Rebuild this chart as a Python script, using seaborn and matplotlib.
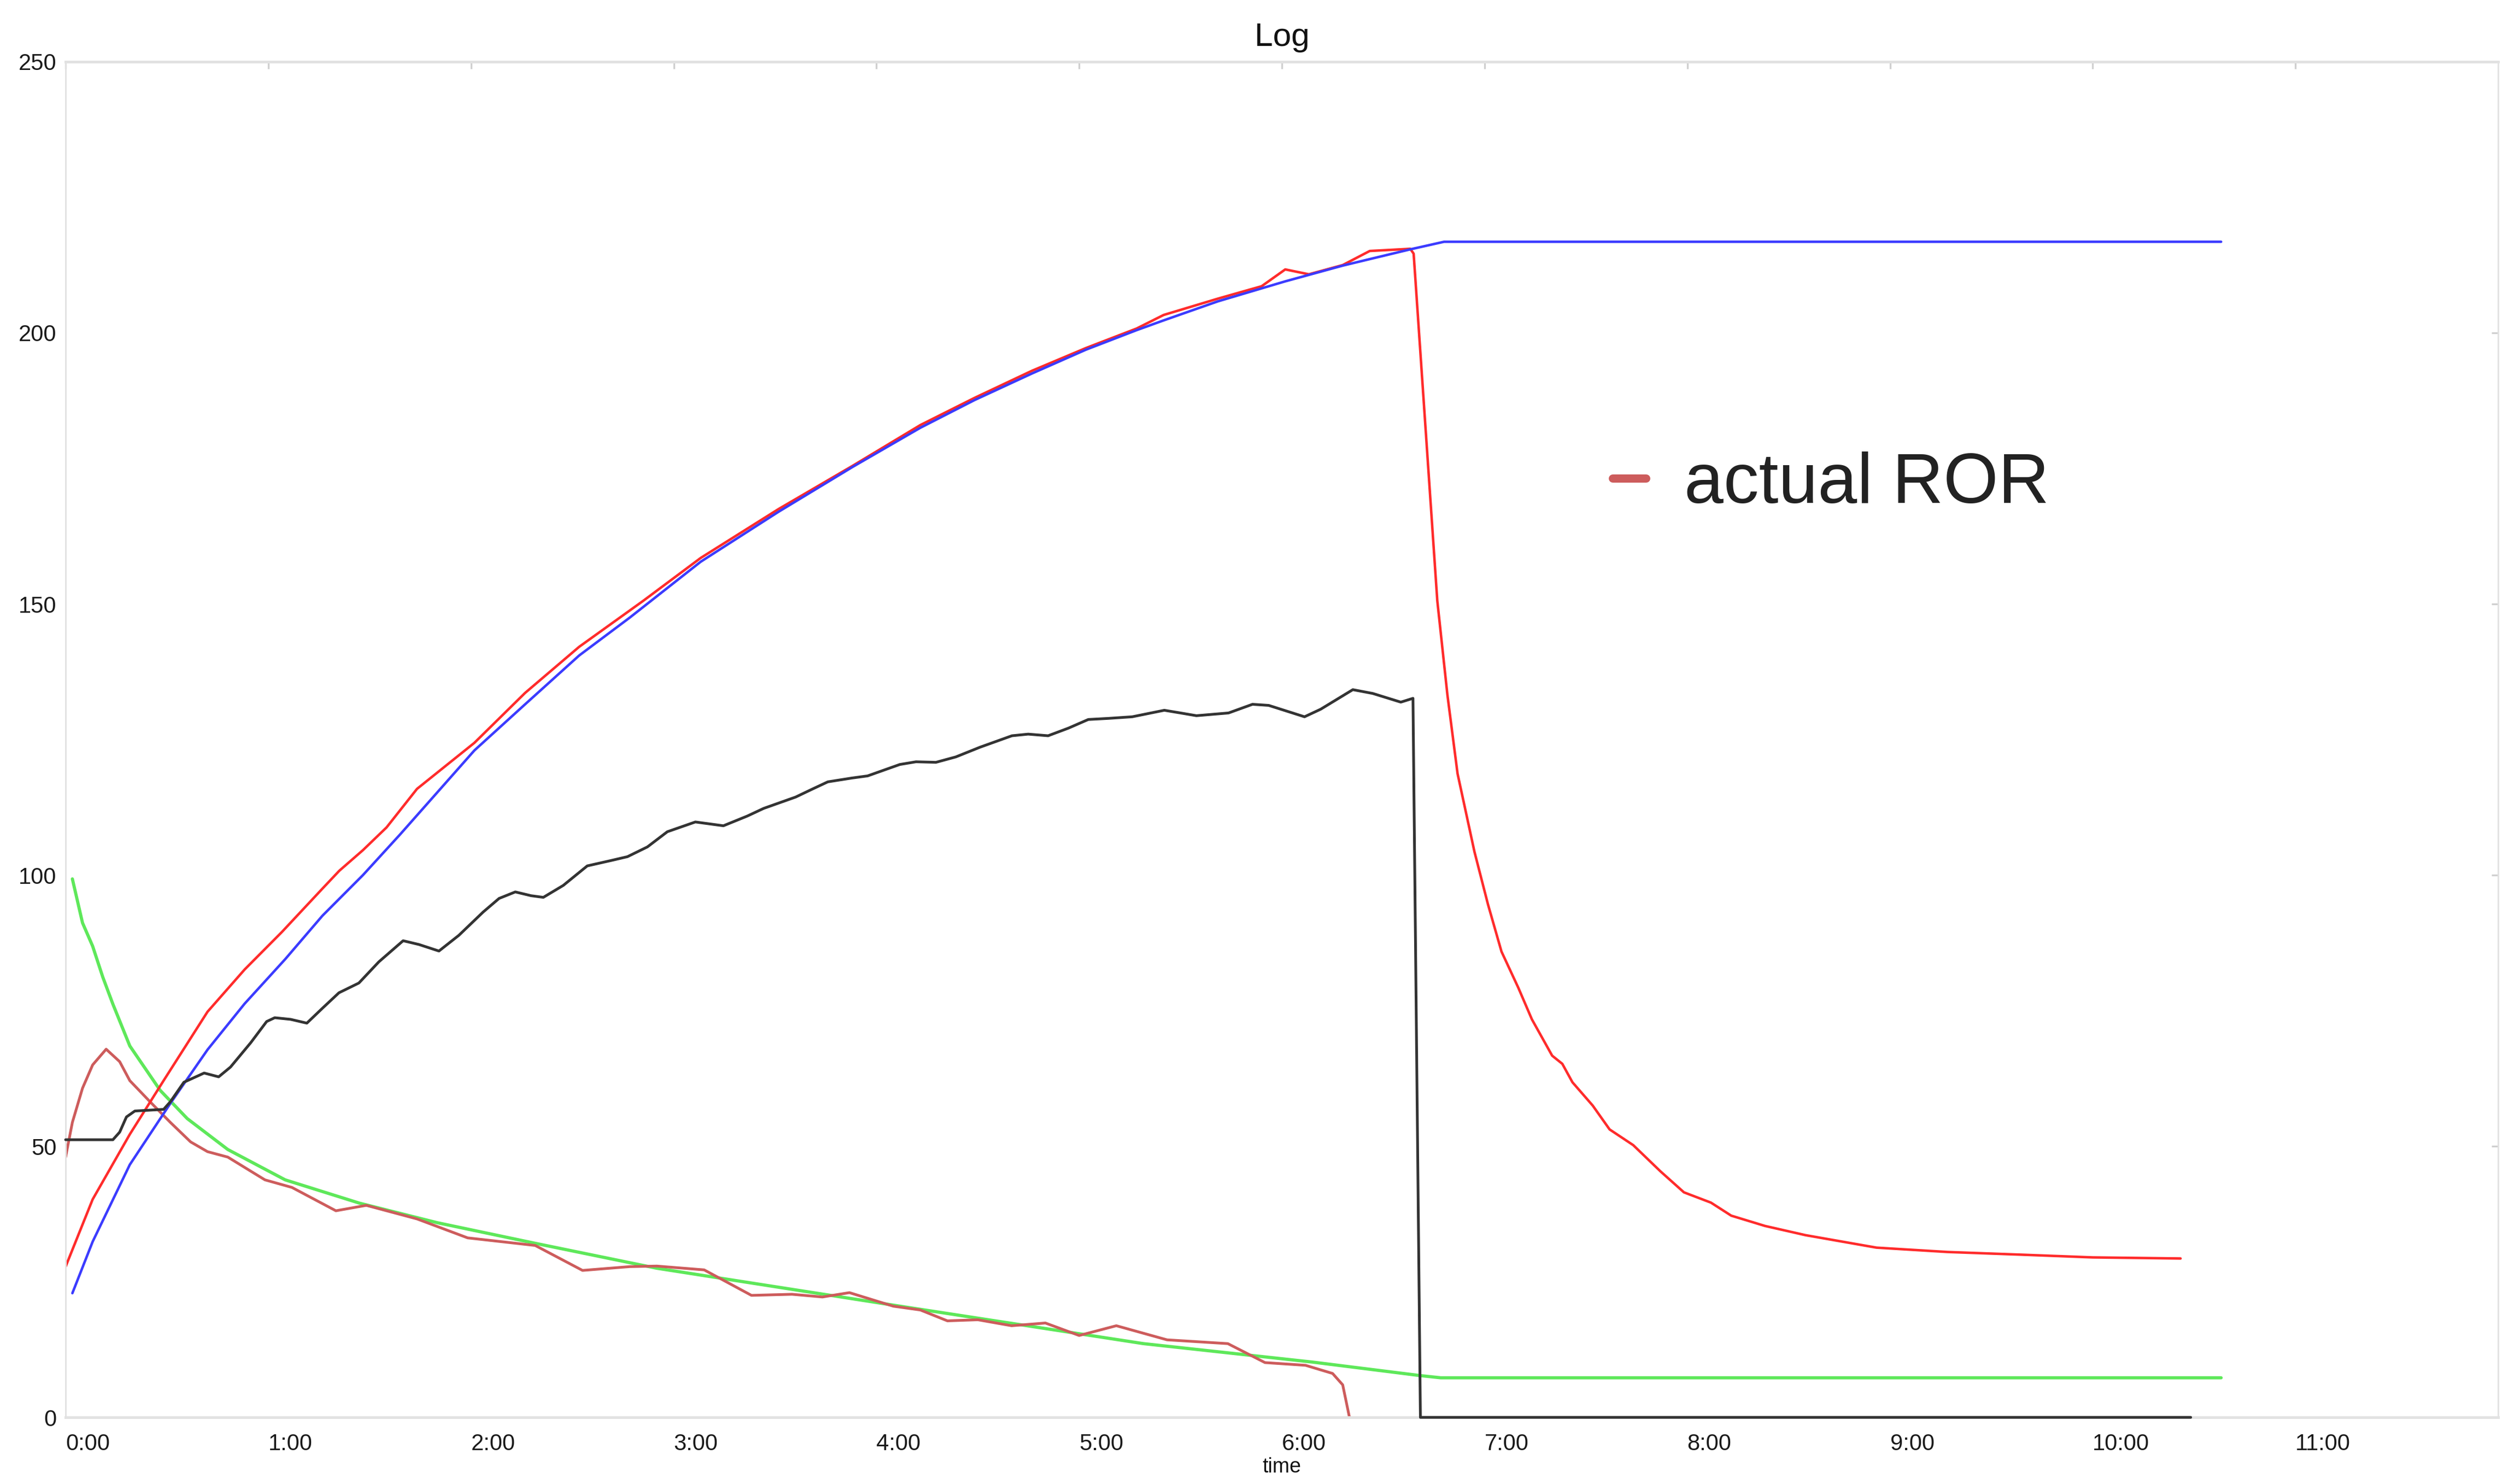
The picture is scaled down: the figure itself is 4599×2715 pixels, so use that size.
import numpy as np
import pandas as pd
import matplotlib
matplotlib.use('Agg')
import matplotlib.pyplot as plt
import seaborn as sns

# values (time in seconds)
bt_profile_t = [2, 8, 19, 31, 42, 53, 65, 76, 88, 99, 121, 136, 152, 167, 188, 211, 233, 253,
                269, 286, 302, 317, 325, 341, 361, 378, 398, 408, 638]
bt_profile = [22.9, 32.4, 46.6, 57.9, 67.8, 76.3, 84.5, 92.5, 100.0, 107.5, 123.0, 131.5, 140.5,
              147.5, 157.8, 167.0, 175.3, 182.5, 187.6, 192.5, 196.9, 200.5, 202.3, 205.8, 209.5,
              212.4, 215.4, 216.8, 216.8]

bt_actual_t = [0, 8, 19, 29, 42, 53, 64, 76, 81, 88, 95, 104, 121, 136, 152, 171, 188, 211, 233,
               253, 269, 286, 302, 317, 325, 341, 354, 361, 368, 378, 386, 398, 399, 406, 409, 412,
               417, 421, 425, 430, 434, 440, 443, 446, 452, 457, 464, 472, 479, 487, 493, 503,
               515, 536, 557, 579, 600, 626]
bt_actual = [27.8, 40.2, 52.2, 62.1, 74.8, 82.6, 89.5, 97.5, 100.8, 104.6, 108.8, 115.9, 124.4,
             133.6, 142.1, 150.6, 158.5, 167.5, 175.5, 183.0, 188.0, 193.0, 197.2, 200.8, 203.3,
             206.3, 208.6, 211.7, 210.8, 212.5, 215.1, 215.5, 214.6, 150.6, 133.2, 118.7, 104.3,
             94.6, 85.9, 79.2, 73.4, 66.7, 65.2, 61.8, 57.5, 53.1, 50.2, 45.4, 41.5, 39.6, 37.2,
             35.3, 33.6, 31.3, 30.5, 30.0, 29.5, 29.3]

ror_actual_t = [0, 2, 5, 8, 12, 16, 19, 25, 31, 37, 42, 48, 59, 67, 80, 89, 104, 119, 139, 153,
                167, 175, 189, 203, 215, 224, 232, 245, 253, 261, 270, 280, 290, 300, 311, 326,
                344, 355, 367, 375, 378, 380]
ror_actual = [48.0, 54.4, 60.7, 65.0, 67.9, 65.6, 62.1, 58.2, 54.4, 50.8, 49.0, 48.0, 43.8, 42.4,
              38.1, 39.1, 36.6, 33.1, 31.7, 27.1, 27.8, 27.9, 27.2, 22.5, 22.7, 22.2, 23.0, 20.5,
              19.8, 17.8, 18.0, 16.9, 17.4, 15.1, 16.9, 14.3, 13.6, 10.1, 9.6, 8.1, 6.0, 0.0]

ror_profile_t = [2, 5, 8, 11, 14, 19, 28, 36, 48, 65, 87, 110, 139, 175, 247, 319, 369, 401, 407,
                 638]
ror_profile = [99.3, 91.2, 86.9, 81.2, 76.2, 68.5, 60.3, 55.1, 49.4, 43.8, 39.5, 35.9, 32.1, 27.5,
               20.5, 13.6, 10.2, 7.7, 7.3, 7.3]

power_t = [0, 14, 16, 18, 20.5, 29, 31, 35, 41, 45.3, 48.8, 54.8, 59.5, 61.9, 66.6, 71.4, 76.1,
           80.9, 86.8, 92.7, 99.9, 104.6, 110.5, 116.4, 123.6, 128.3, 133.1, 137.8, 141.4, 147.3,
           154.4, 161.5, 166.3, 172.2, 178.1, 186.4, 194.7, 201.8, 206.6, 216.1, 220.8, 225.6,
           232.7, 237.4, 246.9, 251.7, 257.6, 263.5, 270.7, 280.1, 284.9, 290.8, 296.8, 302.7,
           308.6, 315.7, 325.2, 330.0, 334.7, 344.2, 351.3, 356.1, 366.7, 371.5, 381.0, 386.9,
           395.2, 398.8, 401, 629]
power = [51.2, 51.2, 52.6, 55.4, 56.5, 56.8, 58.2, 61.8, 63.5, 62.8, 64.6, 69.1, 73.0, 73.7, 73.4,
         72.7, 75.5, 78.3, 80.1, 84.0, 87.9, 87.2, 86.0, 88.9, 93.2, 95.7, 96.9, 96.2, 95.9, 98.1,
         101.7, 102.7, 103.4, 105.2, 108.0, 109.8, 109.1, 110.9, 112.3, 114.4, 115.8, 117.2,
         117.9, 118.3, 120.4, 120.9, 120.8, 121.8, 123.6, 125.7, 126.0, 125.7, 127.1, 128.7,
         128.9, 129.2, 130.4, 129.9, 129.4, 129.9, 131.5, 131.3, 129.2, 130.6, 134.2, 133.5,
         131.9, 132.6, 0.0, 0.0]

x_ticks = [0, 60, 120, 180, 240, 300, 360, 420, 480, 540, 600, 660]
x_labels = ['0:00', '1:00', '2:00', '3:00', '4:00', '5:00', '6:00', '7:00', '8:00', '9:00',
            '10:00', '11:00']
y_ticks = [0, 50, 100, 150, 200, 250]

sns.set_theme(style='white')
plt.rcParams['font.family'] = ['Liberation Sans', 'DejaVu Sans']

fig = plt.figure(figsize=(15.33, 9.05), dpi=300)
ax = fig.add_axes([0.0261, 0.0449, 0.9676, 0.9135])

sns.lineplot(x=ror_profile_t, y=ror_profile, ax=ax, color='#5ee85a', lw=1.4,
             estimator=None, sort=False)
sns.lineplot(x=ror_actual_t, y=ror_actual, ax=ax, color='#cd5c5c', lw=1.2,
             estimator=None, sort=False, label='actual ROR')
sns.lineplot(x=bt_actual_t, y=bt_actual, ax=ax, color='#ff2b2b', lw=1.1,
             estimator=None, sort=False)
sns.lineplot(x=bt_profile_t, y=bt_profile, ax=ax, color='#3b3bff', lw=1.1,
             estimator=None, sort=False)
sns.lineplot(x=power_t, y=power, ax=ax, color='#333333', lw=1.2,
             estimator=None, sort=False)
ax.lines[-1].set_clip_on(False)
ax.lines[-1].set_zorder(3)

ax.set_xlim(0, 720)
ax.set_ylim(0, 250)
ax.set_xticks(x_ticks, labels=x_labels)
ax.set_yticks(y_ticks)
plt.setp(ax.get_xticklabels(), ha='left')
ax.tick_params(axis='both', direction='in', length=3, width=0.8, color='#d0d0d0',
               labelsize=10, labelcolor='#1a1a1a', top=True, right=True)
ax.tick_params(axis='x', pad=7)
ax.tick_params(axis='y', pad=4)
for side, sp in ax.spines.items():
    sp.set_color('#e2e2e2')
    sp.set_linewidth(1.2 if side in ('top', 'bottom') else 0.7)

ax.set_title('Log', fontsize=14.5, pad=7, color='#111111')
ax.set_xlabel('time', fontsize=9, labelpad=1, color='#111111')
ax.set_ylabel('')

leg = ax.legend(loc='center left', bbox_to_anchor=(0.636, 0.688), frameon=False,
                fontsize=31, handlelength=0.47, handletextpad=0.54, borderpad=0,
                borderaxespad=0)
for line in leg.get_lines():
    line.set_linewidth(3.6)
for txt in leg.get_texts():
    txt.set_color('#222222')

fig.savefig('out.png', dpi=300)
